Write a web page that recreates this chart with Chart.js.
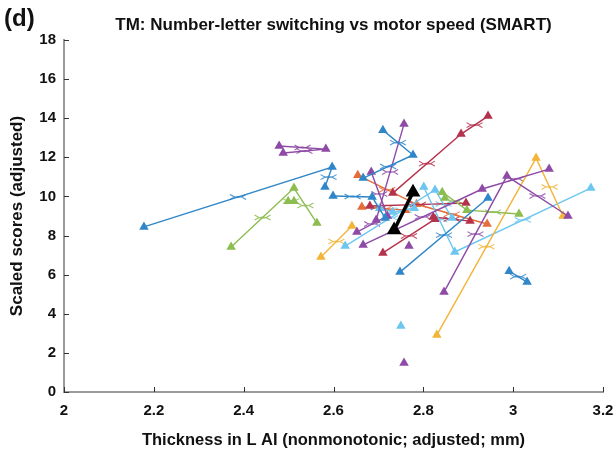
<!DOCTYPE html>
<html>
<head>
<meta charset="utf-8">
<script src="https://cdn.jsdelivr.net/npm/chart.js@4"></script>
<style>
  html, body { margin: 0; padding: 0; background: #fff; }
</style>
</head>
<body>
<canvas id="grafico" width="616" height="452"></canvas>
<script>
const xTickVals = [2, 2.2, 2.4, 2.6, 2.8, 3, 3.2];
const xTickLabels = ['2', '2.2', '2.4', '2.6', '2.8', '3', '3.2'];
const yTickVals = [0, 2, 4, 6, 8, 10, 12, 14, 16, 18];

// one array per subject: [thickness, score] in visit order
const blue1 = [[2.178, 8.44], [2.597, 11.5], [2.581, 10.48]];
const blue2 = [[2.71, 13.39], [2.777, 12.12], [2.666, 10.94]];
const blue3 = [[2.748, 6.13], [2.944, 9.92]];
const blue4 = [[2.991, 6.18], [3.031, 5.62]];
const blue5 = [[2.599, 10.02], [2.686, 9.97], [2.715, 8.9]];
const purple1 = [[2.479, 12.58], [2.583, 12.42], [2.488, 12.22]];
const purple2 = [[2.846, 5.11], [2.986, 11.04], [3.122, 9.0]];
const purple3 = [[3.08, 11.4], [2.931, 10.38], [2.666, 7.52]];
const purple4 = [[2.757, 1.48]];
const purple5 = [[2.768, 7.46]];
const purple6 = [[2.757, 13.7], [2.695, 8.8]];
const purple7 = [[2.684, 11.25], [2.72, 9.0], [2.652, 8.18]];
const green1 = [[2.372, 7.41], [2.512, 10.43], [2.563, 8.64]];
const green2 = [[2.499, 9.76], [2.512, 9.76]];
const green3 = [[2.842, 10.22], [2.897, 9.3], [3.013, 9.1]];
const green4 = [[2.848, 9.92]];
const yellow1 = [[2.572, 6.9], [2.641, 8.49]];
const yellow2 = [[2.83, 2.91], [3.051, 11.96], [3.111, 9.0]];
const lightblue1 = [[2.626, 7.46], [2.826, 10.33], [2.864, 8.9]];
const lightblue2 = [[2.801, 10.48], [2.87, 7.16], [3.173, 10.43]];
const lightblue3 = [[2.75, 3.37]];
const lightblue4 = [[2.703, 9.4], [2.732, 9.2], [2.78, 9.4]];
const red1 = [[2.944, 14.11], [2.884, 13.19], [2.732, 10.17]];
const red2 = [[2.71, 7.11], [2.826, 8.84]];
const red3 = [[2.681, 9.51], [2.895, 9.66]];
const red4 = [[2.822, 8.95], [2.904, 8.74]];
const orange1 = [[2.654, 11.09], [2.785, 9.6], [2.942, 8.59]];
const orange2 = [[2.663, 9.46], [2.76, 9.3]];
const groupMean = [[2.735, 8.28], [2.777, 10.22]];

const colours = {
  blue: '#2f86c8',
  purple: '#8e4aa6',
  green: '#8cbd50',
  yellow: '#f2b53a',
  lightblue: '#6cc6f0',
  red: '#b5324c',
  orange: '#e46d3a',
  black: '#000000'
};

const subjects = [
  [blue1, 'blue'], [blue2, 'blue'], [blue3, 'blue'], [blue4, 'blue'], [blue5, 'blue'],
  [purple1, 'purple'], [purple2, 'purple'], [purple3, 'purple'], [purple4, 'purple'],
  [purple5, 'purple'], [purple6, 'purple'], [purple7, 'purple'],
  [green1, 'green'], [green2, 'green'], [green3, 'green'], [green4, 'green'],
  [yellow1, 'yellow'], [yellow2, 'yellow'],
  [lightblue1, 'lightblue'], [lightblue2, 'lightblue'], [lightblue3, 'lightblue'], [lightblue4, 'lightblue'],
  [red1, 'red'], [red2, 'red'], [red3, 'red'], [red4, 'red'],
  [orange1, 'orange'], [orange2, 'orange']
];

const fonte = 'Arimo, "Liberation Sans", Arial, sans-serif';

const datasets = subjects.map(([pts, cor]) => ({
  data: pts.map(p => ({ x: p[0], y: p[1] })),
  showLine: true,
  borderColor: colours[cor],
  backgroundColor: colours[cor],
  borderWidth: 1.4,
  pointStyle: 'triangle',
  pointRadius: 5.5,
  pointBorderWidth: 0,
  pointBorderColor: colours[cor]
}));

// group mean drawn on top of everything
datasets.push({
  data: groupMean.map(p => ({ x: p[0], y: p[1] })),
  showLine: true,
  order: -1,
  borderColor: colours.black,
  backgroundColor: colours.black,
  borderWidth: 3.5,
  pointStyle: 'triangle',
  pointRadius: 8.5,
  pointBorderWidth: 0
});

// little bow-tie marks at the middle of each segment
const marcasMeio = {
  id: 'marcasMeio',
  beforeDatasetsDraw(chart) {
    const ctx = chart.ctx;
    chart.data.datasets.forEach((ds, i) => {
      if (ds.borderWidth > 2) return;
      const pts = chart.getDatasetMeta(i).data;
      for (let k = 0; k < pts.length - 1; k++) {
        const mx = (pts[k].x + pts[k + 1].x) / 2;
        const my = (pts[k].y + pts[k + 1].y) / 2;
        const w = 8;
        ctx.save();
        ctx.strokeStyle = ds.borderColor;
        ctx.globalAlpha = 0.85;
        ctx.lineWidth = 1.1;
        ctx.beginPath();
        ctx.moveTo(mx - w, my - 2.5);
        ctx.quadraticCurveTo(mx, my + 3.5, mx + w, my - 2.5);
        ctx.moveTo(mx - w, my + 2.5);
        ctx.quadraticCurveTo(mx, my - 3.5, mx + w, my + 2.5);
        ctx.stroke();
        ctx.restore();
      }
    });
  }
};

// inward tick marks and the heading texts
const extras = {
  id: 'extras',
  afterDraw(chart) {
    const ctx = chart.ctx;
    const xs = chart.scales.x, ys = chart.scales.y;
    ctx.save();
    ctx.strokeStyle = '#333';
    ctx.lineWidth = 1;
    ctx.beginPath();
    xTickVals.forEach(v => {
      const px = Math.round(xs.getPixelForValue(v)) + 0.5;
      ctx.moveTo(px, ys.bottom);
      ctx.lineTo(px, ys.bottom - 5);
    });
    yTickVals.forEach(v => {
      const py = Math.round(ys.getPixelForValue(v)) + 0.5;
      ctx.moveTo(xs.left, py);
      ctx.lineTo(xs.left + 5, py);
    });
    ctx.stroke();

    ctx.fillStyle = '#111';
    ctx.textBaseline = 'middle';
    ctx.font = 'bold 24px ' + fonte;
    ctx.textAlign = 'left';
    ctx.fillText('(d)', 4, 19);
    ctx.font = 'bold 17px ' + fonte;
    ctx.textAlign = 'center';
    ctx.fillText('TM: Number-letter switching vs motor speed (SMART)', (xs.left + xs.right) / 2, 25);
    ctx.restore();
  }
};

new Chart(document.getElementById('grafico'), {
  type: 'scatter',
  data: { datasets },
  options: {
    responsive: false,
    animation: false,
    layout: { padding: { top: 40, right: 13, left: 0, bottom: 0 } },
    plugins: { legend: { display: false }, tooltip: { enabled: false } },
    scales: {
      x: {
        min: 2, max: 3.2,
        afterBuildTicks: s => { s.ticks = xTickVals.map(v => ({ value: v })); },
        afterFit: s => { s.height = 60; s.paddingLeft = 0; s.paddingRight = 0; },
        grid: { display: false, drawTicks: false },
        border: { display: true, color: '#9a9a9a', width: 2 },
        ticks: {
          padding: 10, color: '#111',
          font: { family: fonte, size: 15, weight: 'bold' },
          callback: (v, i) => xTickLabels[i]
        },
        title: {
          display: true, text: 'Thickness in L AI (nonmonotonic; adjusted; mm)',
          color: '#111', font: { family: fonte, size: 16.5, weight: 'bold' },
          padding: { top: 0, bottom: 2 }
        }
      },
      y: {
        min: 0, max: 18,
        afterBuildTicks: s => { s.ticks = yTickVals.map(v => ({ value: v })); },
        afterFit: s => { s.width = 64; s.paddingTop = 0; s.paddingBottom = 0; },
        grid: { display: false, drawTicks: false },
        border: { display: true, color: '#9a9a9a', width: 2 },
        ticks: {
          padding: 8, color: '#111',
          font: { family: fonte, size: 15, weight: 'bold' }
        },
        title: {
          display: true, text: 'Scaled scores (adjusted)',
          color: '#111', font: { family: fonte, size: 17, weight: 'bold' },
          padding: { top: 7, bottom: 0 }
        }
      }
    }
  },
  plugins: [marcasMeio, extras]
});
</script>
</body>
</html>
